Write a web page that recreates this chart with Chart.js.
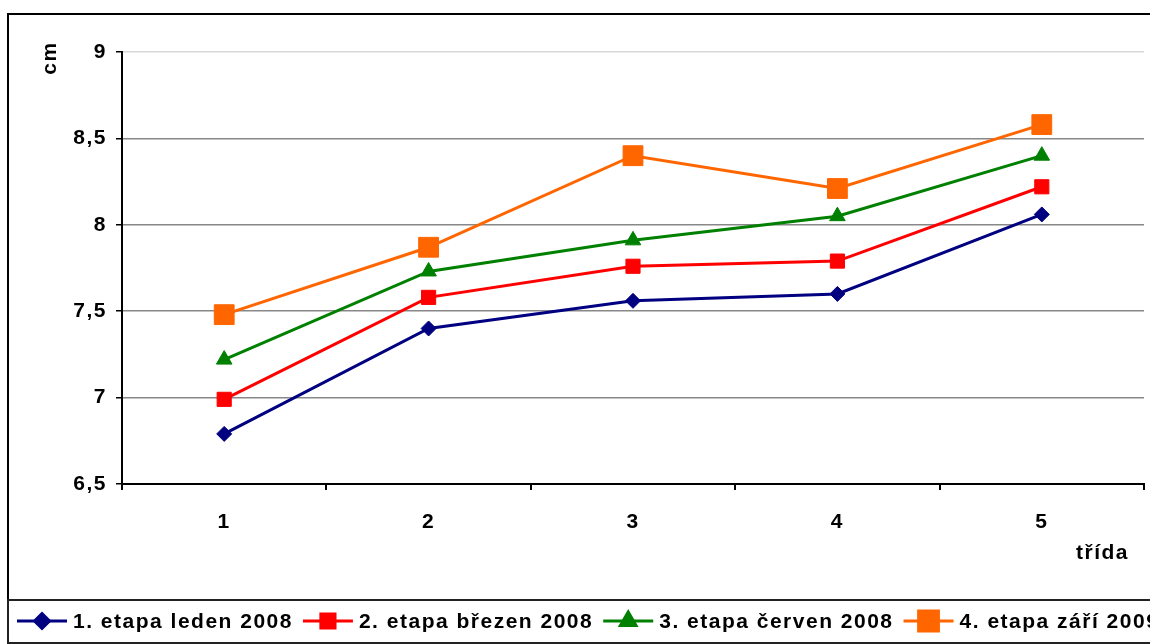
<!DOCTYPE html>
<html>
<head>
<meta charset="utf-8">
<script src="https://cdn.jsdelivr.net/npm/chart.js@4.4.1/dist/chart.umd.min.js"></script>
<style>
  html, body { margin: 0; padding: 0; background: #fff; overflow: hidden; }
  #wrap { position: relative; width: 1150px; height: 644px; }
</style>
</head>
<body>
<div id="wrap"><canvas id="chart" width="1150" height="644"></canvas></div>
<script>
const classes = ['1', '2', '3', '4', '5'];
const stage1 = [6.79, 7.40, 7.56, 7.60, 8.06];
const stage2 = [6.99, 7.58, 7.76, 7.79, 8.22];
const stage3 = [7.22, 7.73, 7.91, 8.05, 8.40];
const stage4 = [7.48, 7.87, 8.40, 8.21, 8.58];
const seriesNames = ['1. etapa leden 2008', '2. etapa březen 2008', '3. etapa červen 2008', '4. etapa září 2009'];
const yTicks = [6.5, 7, 7.5, 8, 8.5, 9];

const FAMILY = '"Liberation Sans", Arial, sans-serif';
const FONT = 'bold 21px ' + FAMILY;
const SPACING = '1.5px';

function line(label, data, color, style, radius) {
  return {
    label, data, borderColor: color, backgroundColor: color, borderWidth: 3,
    pointStyle: style, pointRadius: radius, pointHoverRadius: radius, pointBorderWidth: 1,
    tension: 0
  };
}

const frame = {
  id: 'frame',
  beforeDraw(chart) { chart.ctx.letterSpacing = SPACING; },
  afterDraw(chart) {
    const ctx = chart.ctx;
    ctx.save();
    ctx.letterSpacing = SPACING;
    // outer border
    ctx.strokeStyle = '#000';
    ctx.lineWidth = 2;
    ctx.beginPath();
    ctx.moveTo(8, 644); ctx.lineTo(8, 14); ctx.lineTo(1150, 14);
    ctx.stroke();
    // legend box
    ctx.lineWidth = 2;
    ctx.strokeStyle = '#222';
    ctx.strokeRect(8, 600, 1150, 43);
    // axis titles
    ctx.fillStyle = '#000';
    ctx.font = FONT;
    ctx.textAlign = 'right';
    ctx.textBaseline = 'middle';
    ctx.fillText('třída', 1129, 553);
    ctx.save();
    ctx.translate(50, 58);
    ctx.rotate(-Math.PI / 2);
    ctx.textAlign = 'center';
    ctx.fillText('cm', 0, 0);
    ctx.restore();
    // legend
    let x = 17;
    const y = 621;
    chart.data.datasets.forEach(ds => {
      ctx.strokeStyle = ds.borderColor;
      ctx.lineWidth = 3;
      ctx.beginPath();
      ctx.moveTo(x, y); ctx.lineTo(x + 50, y);
      ctx.stroke();
      ctx.fillStyle = ds.backgroundColor;
      Chart.helpers.drawPoint(ctx, { pointStyle: ds.pointStyle, radius: ds.pointRadius, rotation: 0, borderWidth: 1 }, x + 25, y);
      ctx.fillStyle = '#000';
      ctx.textAlign = 'left';
      ctx.fillText(ds.label, x + 56, y + 1);
      x += 56 + ctx.measureText(ds.label).width + 10;
    });
    ctx.restore();
  }
};

new Chart(document.getElementById('chart'), {
  type: 'line',
  data: {
    labels: classes,
    datasets: [
      line(seriesNames[0], stage1, '#000080', 'rectRot', 7.5),
      line(seriesNames[1], stage2, '#ff0000', 'rect', 10),
      line(seriesNames[2], stage3, '#008000', 'triangle', 9),
      line(seriesNames[3], stage4, '#ff6600', 'rect', 14)
    ]
  },
  options: {
    responsive: false,
    animation: false,
    events: [],
    layout: { autoPadding: false, padding: { left: 0, top: 52, right: 6, bottom: 0 } },
    plugins: { legend: { display: false }, tooltip: { enabled: false } },
    scales: {
      x: {
        offset: true,
        afterFit: s => { s.height = 160; s.paddingLeft = 0; s.paddingRight = 0; },
        grid: { offset: true, drawOnChartArea: false, tickLength: 6, tickColor: '#000', lineWidth: 2 },
        border: { color: '#000', width: 2 },
        ticks: { color: '#000', font: { family: FAMILY, size: 21, weight: 'bold' }, padding: 20 }
      },
      y: {
        min: 6.5, max: 9,
        afterFit: s => { s.width = 122; s.paddingTop = 0; s.paddingBottom = 0; },
        afterBuildTicks: s => { s.ticks = yTicks.map(v => ({ value: v })); },
        grid: {
          color: c => c.tick && c.tick.value === 9 ? '#d8d8d8' : '#888888',
          lineWidth: 1.5, tickLength: 6, tickColor: '#000'
        },
        border: { color: '#000', width: 2 },
        ticks: {
          color: '#000', padding: 9,
          font: { family: FAMILY, size: 21, weight: 'bold' },
          callback: v => String(v).replace('.', ',')
        }
      }
    }
  },
  plugins: [frame]
});
</script>
</body>
</html>
